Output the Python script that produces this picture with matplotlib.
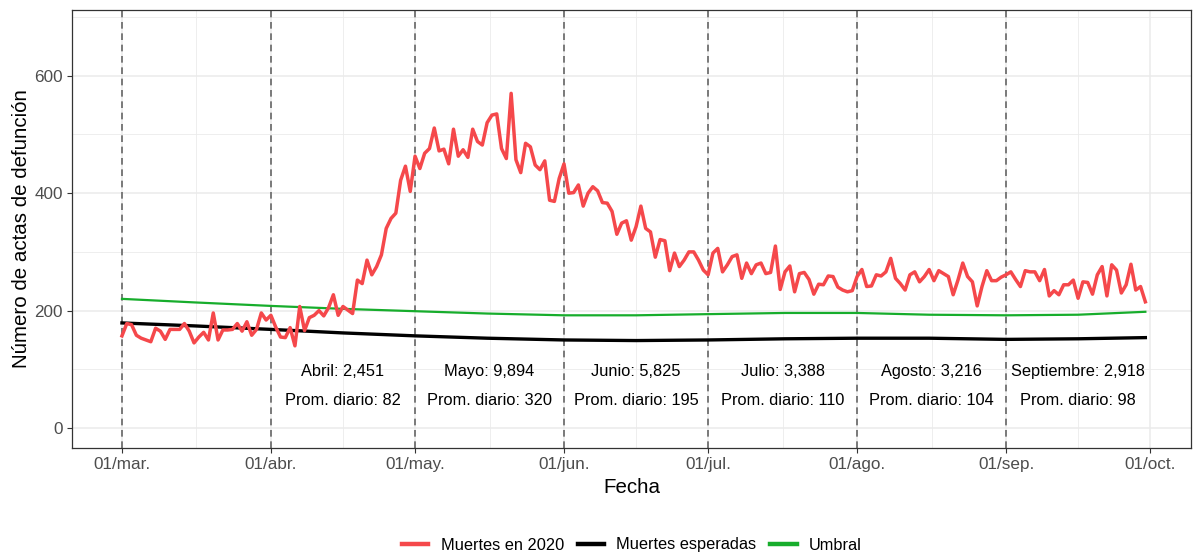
import pandas as pd
import numpy as np
import matplotlib
matplotlib.use('Agg')
import matplotlib.pyplot as plt
import matplotlib.dates as mdates
from matplotlib.lines import Line2D

plt.rcParams['font.family'] = ['Liberation Sans', 'DejaVu Sans']

# daily deaths 2020, 01/mar - 30/sep
muertes_2020 = [
    # marzo
    157, 178, 176, 158, 153, 150, 147, 170, 165, 151, 168, 168, 168, 178, 165, 145,
    155, 163, 150, 196, 150, 167, 167, 168, 178, 165, 181, 158, 168, 196, 184,
    # abril
    192, 172, 155, 154, 171, 140, 207, 166, 188, 192, 200, 191, 205, 227, 192, 207,
    201, 195, 252, 246, 286, 261, 275, 295, 340, 357, 366, 422, 446, 403,
    # mayo
    463, 442, 468, 476, 511, 472, 475, 450, 509, 463, 474, 461, 509, 488, 482, 520,
    533, 535, 476, 459, 570, 457, 435, 485, 479, 448, 440, 455, 388, 386, 425,
    # junio
    450, 400, 401, 414, 378, 400, 411, 404, 384, 383, 369, 330, 349, 353, 320, 343,
    378, 340, 334, 291, 321, 319, 268, 298, 275, 286, 300, 300, 286, 269,
    # julio
    261, 298, 306, 266, 278, 292, 295, 255, 281, 263, 278, 281, 263, 265, 310, 236,
    266, 276, 232, 263, 265, 253, 228, 245, 244, 259, 258, 240, 235, 232, 234,
    # agosto
    258, 270, 241, 242, 261, 259, 266, 289, 255, 246, 235, 261, 266, 249, 258, 270,
    251, 268, 263, 258, 227, 252, 281, 258, 249, 208, 241, 268, 251, 251, 257,
    # septiembre
    261, 266, 253, 241, 268, 266, 266, 251, 270, 225, 234, 227, 244, 244, 252, 221,
    249, 248, 228, 261, 275, 225, 278, 269, 230, 244, 279, 235, 241, 215,
]
fechas = pd.date_range('2020-03-01', '2020-09-30', freq='D')

# expected deaths and threshold (smooth curves)
fechas_ref = pd.to_datetime(['2020-03-01', '2020-03-16', '2020-04-01', '2020-04-16', '2020-05-01',
                             '2020-05-16', '2020-06-01', '2020-06-16', '2020-07-01', '2020-07-17',
                             '2020-08-01', '2020-08-16', '2020-09-01', '2020-09-16', '2020-09-30'])
muertes_esperadas = [179, 174, 168, 162, 157, 153, 150, 149, 150, 152, 153, 153, 151, 152, 154]
umbral = [220, 214, 208, 203, 199, 195, 192, 192, 194, 196, 196, 193, 192, 193, 198]

# monthly excess annotations
meses = ['Abril', 'Mayo', 'Junio', 'Julio', 'Agosto', 'Septiembre']
exceso_total = [2451, 9894, 5825, 3388, 3216, 2918]
prom_diario = [82, 320, 195, 110, 104, 98]

inicio_mes = pd.to_datetime(['2020-03-01', '2020-04-01', '2020-05-01', '2020-06-01',
                             '2020-07-01', '2020-08-01', '2020-09-01', '2020-10-01'])
etiquetas_x = ['01/mar.', '01/abr.', '01/may.', '01/jun.', '01/jul.', '01/ago.', '01/sep.', '01/oct.']

rojo = '#F5484B'
verde = '#17AD2C'

fig = plt.figure(figsize=(11.93, 5.54), dpi=100)
ax = fig.add_axes([72 / 1193, 1 - 448 / 554, (1191 - 72) / 1193, (448 - 10) / 554])
ax.set_axisbelow(True)

xnum = mdates.date2num(inicio_mes)
minor_x = (xnum[:-1] + xnum[1:]) / 2
ax.set_xticks(xnum)
ax.set_xticklabels(etiquetas_x)
ax.set_xticks(minor_x, minor=True)
ax.set_yticks([0, 200, 400, 600])
ax.set_yticks([100, 300, 500, 700], minor=True)
ax.grid(which='major', color='#EBEBEB', lw=1.1)
ax.grid(which='minor', color='#EBEBEB', lw=0.6)
ax.tick_params(which='minor', length=0)
ax.tick_params(which='major', length=3.5, width=0.8, color='#333333',
               labelcolor='#4D4D4D', labelsize=12.3, pad=3)

for x in xnum[:-1]:
    ax.axvline(x, color='#666666', lw=1.2, ls=(0, (4, 2.8)), zorder=2)

ax.plot(fechas_ref, umbral, color=verde, lw=1.6, zorder=3)
ax.plot(fechas_ref, muertes_esperadas, color='black', lw=2.4, zorder=3)
ax.plot(fechas, muertes_2020, color=rojo, lw=2.5, zorder=4)

medios = inicio_mes[1:-1] + (inicio_mes[2:] - inicio_mes[1:-1]) / 2
for x, mes, tot, prom in zip(medios, meses, exceso_total, prom_diario):
    ax.text(x, 96, f'{mes}: {tot:,}', ha='center', va='center', fontsize=11.8, color='black')
    ax.text(x, 47, f'Prom. diario: {prom}', ha='center', va='center', fontsize=11.8, color='black')

x0 = mdates.date2num(pd.Timestamp('2020-03-01'))
ax.set_xlim(x0 - 10.4, x0 + 222.5)
ax.set_ylim(-34, 712)

for s in ax.spines.values():
    s.set_color('#333333')
    s.set_linewidth(0.9)

ax.set_xlabel('Fecha', fontsize=14.8)
ax.set_ylabel('Número de actas de defunción', fontsize=14.8)
ax.xaxis.set_label_coords(0.5, -(478 - 448) / 438)
ax.yaxis.set_label_coords(-(72 - 12) / 1119, 0.5)
ax.yaxis.label.set_va('top')

handles = [Line2D([], [], color=rojo, lw=3.2),
           Line2D([], [], color='black', lw=3.2),
           Line2D([], [], color=verde, lw=3.2)]
fig.legend(handles, ['Muertes en 2020', 'Muertes esperadas', 'Umbral'],
           loc='center', bbox_to_anchor=(632 / 1193, 1 - 545 / 554), ncol=3,
           frameon=False, fontsize=11.8, handlelength=1.6, handletextpad=0.75,
           columnspacing=0.85)

fig.savefig('out.png', dpi=100)
